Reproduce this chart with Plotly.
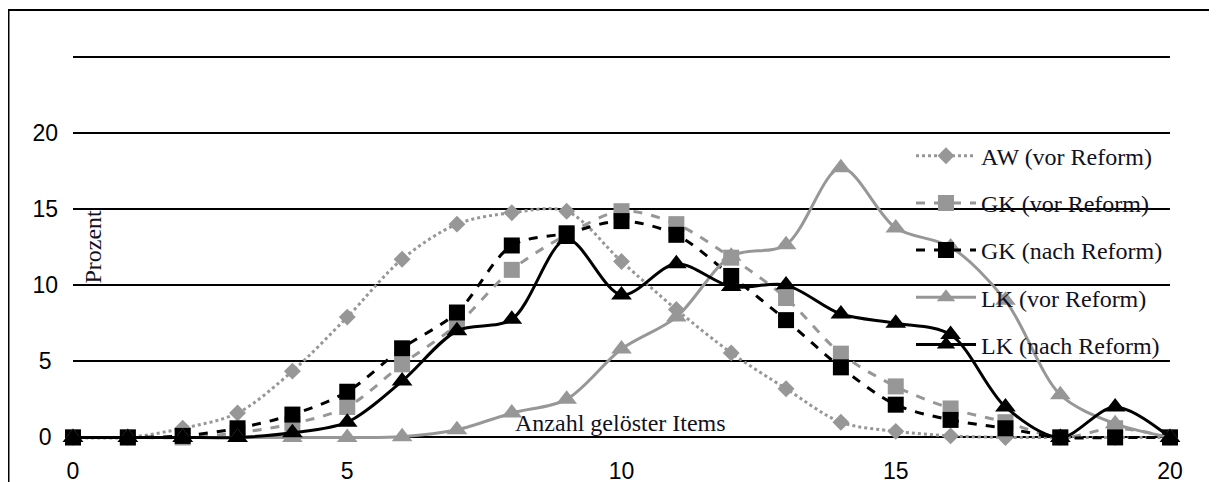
import plotly.graph_objects as go

items = list(range(21))
aw_vor = [0, 0, 0.6, 1.6, 4.35, 7.9, 11.7, 14.0, 14.75, 14.85, 11.55, 8.4, 5.55, 3.2, 1.0, 0.4, 0.1, 0, 0, 0, 0]
gk_vor = [0, 0, 0, 0.3, 0.9, 2.0, 4.8, 7.4, 11.0, 13.3, 14.85, 14.0, 11.8, 9.15, 5.5, 3.35, 1.9, 1.0, 0, 0.6, 0]
gk_nach = [0, 0, 0.1, 0.6, 1.5, 3.0, 5.85, 8.2, 12.6, 13.4, 14.2, 13.3, 10.6, 7.7, 4.6, 2.15, 1.15, 0.6, 0, 0, 0]
lk_vor = [0, 0, 0, 0, 0, 0, 0.05, 0.5, 1.6, 2.5, 5.8, 7.9, 11.9, 12.65, 17.7, 13.75, 12.5, 9.0, 2.8, 0.9, 0]
lk_nach = [0, 0, 0, 0, 0.3, 1.0, 3.7, 7.0, 7.75, 13.0, 9.35, 11.4, 9.9, 10.0, 8.1, 7.5, 6.75, 2.0, 0, 2.0, 0]

y_ticks = [0, 5, 10, 15, 20, 25]
y_ticktext = ["0\u2008", "5\u2008", "10", "15", "20", ""]
x_ticks = [0, 5, 10, 15, 20]

GRAY = "#979797"
BLACK = "#000000"
SERIF = "Liberation Serif, Times New Roman, serif"

series = [
    ("AW (vor Reform)", aw_vor, GRAY, "dot", "diamond", 13),
    ("GK (vor Reform)", gk_vor, GRAY, "dash", "square", 16),
    ("GK (nach Reform)", gk_nach, BLACK, "dash", "square", 16),
    ("LK (vor Reform)", lk_vor, GRAY, "solid", "triangle-up", 18),
    ("LK (nach Reform)", lk_nach, BLACK, "solid", "triangle-up", 18),
]

fig = go.Figure()
for i, (name, vals, col, dash, sym, sz) in enumerate(series):
    fig.add_trace(go.Scatter(
        x=items, y=vals, name=name, mode="lines+markers",
        line=dict(color=col, width=3, dash=dash, shape="spline", smoothing=0.9),
        marker=dict(color=col, symbol=sym, size=sz, line=dict(width=0)),
        legendgroup="g%d" % i,
        cliponaxis=False,
    ))

# page is shown with an 8px body margin; positions below are in screen pixels
OFF = 8
W, H = 1217, 482
L, R, T, B = 65, 55, 44.4, 47.5
pw, ph = W - L - R, H - T - B

def px_x(p):
    return (p - OFF - L) / pw

def px_y(p):
    return (H - B - (p - OFF)) / ph

fig.update_layout(
    width=W, height=H,
    margin=dict(l=L, r=R, t=T, b=B, autoexpand=False),
    paper_bgcolor="white", plot_bgcolor="white",
    font=dict(family="Liberation Sans, Arial, sans-serif", size=23, color="black"),
    xaxis=dict(range=[0, 20], tickvals=x_ticks, showgrid=False, zeroline=False,
               showline=False, ticks="", ticklabelstandoff=13,
               tickfont=dict(size=23, color="black")),
    yaxis=dict(range=[-0.3, 25.3], tickvals=y_ticks, ticktext=y_ticktext,
               showgrid=True, gridcolor="black", gridwidth=2, zeroline=False,
               showline=False, ticks="", ticklabelstandoff=14,
               tickfont=dict(size=23, color="black")),
    legend=dict(x=px_x(911), y=px_y(134), xanchor="left", yanchor="top",
                bgcolor="rgba(0,0,0,0)", borderwidth=0,
                font=dict(family=SERIF, size=24, color="#111122"),
                tracegroupgap=13, itemwidth=60),
    showlegend=True,
    annotations=[
        dict(text="Prozent", xref="paper", yref="paper", x=px_x(93), y=px_y(247),
             xanchor="center", yanchor="middle",
             showarrow=False, textangle=-90,
             font=dict(family=SERIF, size=24, color="#111122")),
        dict(text="Anzahl gelöster Items", xref="paper", yref="paper", x=px_x(620), y=px_y(423),
             xanchor="center", yanchor="middle",
             showarrow=False,
             font=dict(family=SERIF, size=24, color="#111122")),
    ],
    shapes=[
        dict(type="rect", xref="paper", yref="paper",
             x0=px_x(8.5), x1=px_x(1260), y0=px_y(10.5), y1=px_y(540),
             line=dict(color="black", width=2), fillcolor="rgba(0,0,0,0)", layer="above"),
    ],
)

fig.write_html("out.html")
